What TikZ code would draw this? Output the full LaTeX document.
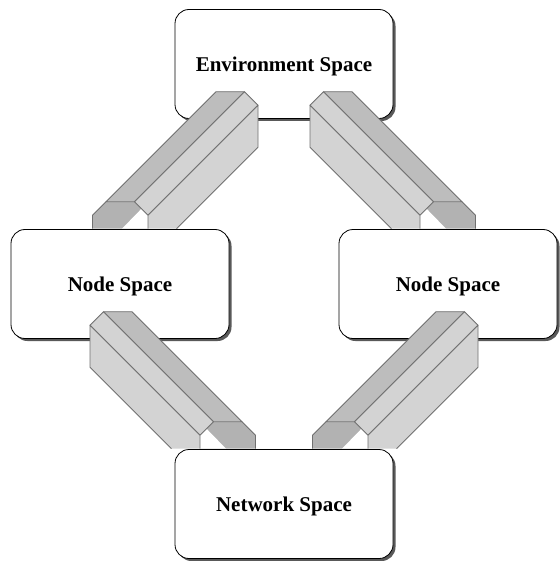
\documentclass[tikz,border=0pt]{standalone}
\usepackage{fontspec}
\setmainfont{Liberation Serif}
\usepackage{tikz}
\usetikzlibrary{calc,shadows}

\definecolor{tubetop}{HTML}{BDBDBD}
\definecolor{tubeside}{HTML}{D3D3D3}
\definecolor{tubeend}{HTML}{B2B2B2}
\definecolor{tubeline}{HTML}{707070}

% a tube standing on the top edge of a box: #1 = foot, #2 = 1 (leans right) or -1 (leans left)
\newcommand{\tube}[2]{%
  \begin{scope}[shift={#1},xscale=#2,yscale=-1,color=tubeline,line width=0.8pt,line join=round]
    \fill[tubeend] (0,0) -- (0,13.5) -- (13.5,27) -- (42,27) -- (55.5,13.5) -- (55.5,0) -- cycle;
    \fill[white] (29.5,0) -- (49,20) -- (55.5,13.5) -- (55.5,0) -- cycle;
    \filldraw[fill=tubetop] (13.5,27) -- (123.5,137) -- (152,137) -- (42,27) -- cycle;
    \filldraw[fill=tubeside] (42,27) -- (152,137) -- (165.5,123.5) -- (55.5,13.5) -- cycle;
    \filldraw[fill=tubeside] (55.5,0) -- (55.5,13.5) -- (165.5,123.5) -- (165.5,81.5) -- (84,0);
    \draw (0,0) -- (0,13.5) -- (13.5,27);
  \end{scope}}

\begin{document}
\begin{tikzpicture}[x=1pt,y=-1pt,
    space/.style={draw,fill=white,rounded corners=14pt,line width=0.8pt,
      minimum width=218pt,minimum height=109pt,inner sep=0pt,text depth=0pt,
      font=\fontsize{21}{25}\selectfont\bfseries,
      drop shadow={shadow xshift=2.5pt,shadow yshift=-2.5pt,fill=black!65,opacity=1}}]
  \useasboundingbox (0,0) rectangle (559,561);
  \node[space](env)at(284,64){Environment Space};
  \node[space](left)at(120,284){Node Space};
  \node[space](right)at(448,284){Node Space};
  \node[space](net)at(284,504){Network Space};
  \tube{($(left.north)+(-27.5,-0.4)$)}{1}
  \tube{($(right.north)+(27.5,-0.4)$)}{-1}
  \tube{($(net.north)+(-28.5,-0.4)$)}{-1}
  \tube{($(net.north)+(28.5,-0.4)$)}{1}
\end{tikzpicture}
\end{document}
